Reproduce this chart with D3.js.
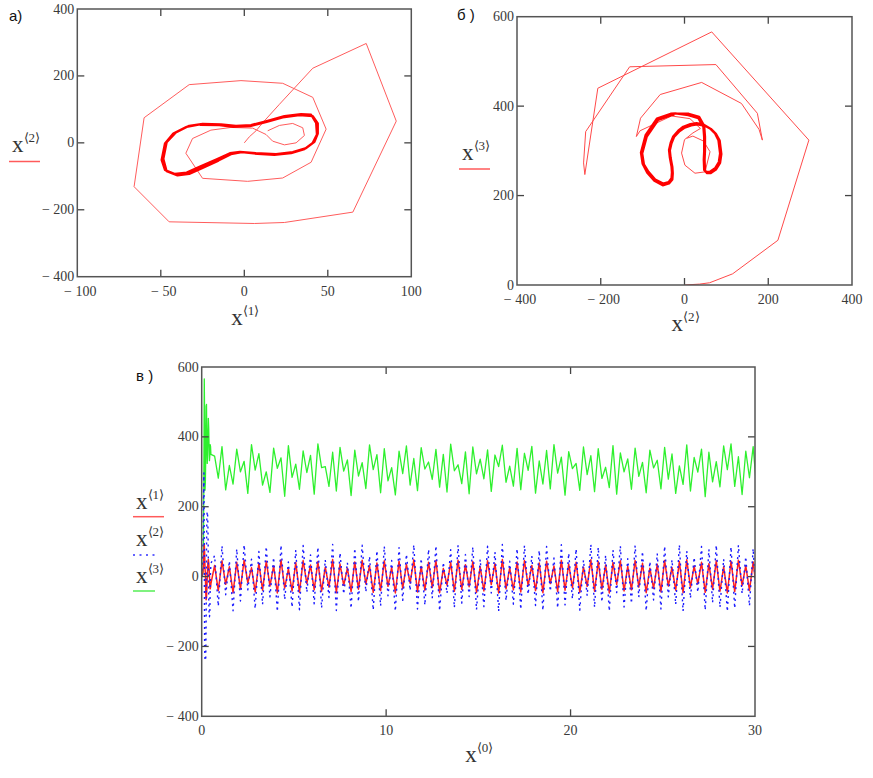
<!DOCTYPE html>
<html lang="ru">
<head>
<meta charset="UTF-8">
<title>Фазовые портреты и временные ряды</title>
<script src="https://cdn.jsdelivr.net/npm/d3@7"></script>
<style>
  body { margin: 0; background: #fff; }
  text { font-family: "Liberation Serif", "Times New Roman", serif; fill: #3a3a3a; }
  .plbl { font-family: "Liberation Sans", Arial, sans-serif; fill: #111; font-size: 15px; }
  .ttl { fill: #333; }
</style>
</head>
<body>
<svg id="chart" width="873" height="778"></svg>
<script>
// start of the trajectory (shared by all three plots), sampled every trStep
var trStep = 0.02;
var trX1 = [0, 3, 7, 11, 21, 41, 73, 91, 65, 24, 6, -45, -66, -60, -33, -2, 23, 41, 49, 40, 23, 2, -25, -35, -31, -20];
var trX2 = [0, 18, 36, 60, 115, 223, 297, 65, -207, -238, -241, -236, -131, 75, 174, 186, 178, 136, 41, -58, -105, -115, -106, -31, 13, 38];
var trX3 = [0, 1, 2, 5, 25, 100, 324, 566, 440, 247, 273, 343, 488, 493, 384, 324, 348, 406, 453, 426, 373, 332, 345, 378, 372, 350];

// plot a: thin path into the small right loop, then the thick attractor (two passes)
var innerA_x1 = [-8, 5, 13, 17, 24, 31, 36, 35, 29, 21, 14];
var innerA_x2 = [46, 44, 25, 5, -6, 0, 22, 45, 58, 52, 36];
var loopA_x1 = [-26.5, -15, -6.6, 3.4, 13.4, 23, 33, 41, 44, 44, 42, 37, 29, 19, 7, -2.6, -8.6, -16.5, -26.5, -34.5, -41.5, -47.5, -49.5, -47.5, -42.5, -34.5,
                -25, -14, -5, 4, 14, 24, 34, 40, 43, 43.5, 41, 36, 28, 18, 8, -1.5, -8, -15.5, -25, -33, -40, -46.5, -48.5, -46.5, -41, -33, -25];
var loopA_x2 = [54, 53, 48, 50, 63, 76, 83, 80, 58, 28, 3, -16, -28, -34, -31, -27, -31, -49, -71, -89, -93, -81, -51, -2, 28, 48,
                57, 55, 51, 53, 66, 80, 86, 84, 60, 25, 0, -19, -31, -36, -33, -28, -34, -53, -75, -93, -97, -85, -48, 2, 31, 51, 57];

// plot b: thin inner circle, then the thick attractor (two passes)
var innerB_x2 = [20, 0, -7, 1, 25, 49, 61, 45, 20, 5];
var innerB_x3 = [340, 325, 295, 268, 250, 253, 298, 322, 333, 328];
var loopB_x2 = [-24, -31, -63, -90, -101, -97, -86, -70, -51, -38, -31, -30, -31, -35, -37, -33, -27, -15, -3, 14, 29, 47, 61, 73, 81, 85, 82, 73, 60, 53, 47, 46, 47, 47, 45, 33, 9,
                -22, -33, -66, -93, -104, -100, -89, -72, -52, -37, -29, -28, -29, -33, -35, -31, -25, -13, -1, 16, 31, 49, 63, 75, 84, 88, 85, 75, 62, 54, 49, 48, 49, 49, 47, 35, 10, -22];
var loopB_x3 = [381, 380, 369, 332, 294, 270, 253, 236, 227, 230, 239, 252, 265, 285, 302, 318, 332, 345, 354, 360, 362, 358, 350, 339, 324, 294, 275, 261, 253, 253, 257, 280, 300, 330, 354, 373, 380,
                384, 383, 372, 335, 296, 271, 251, 233, 223, 227, 236, 250, 264, 284, 301, 317, 331, 343, 351, 357, 359, 356, 349, 338, 323, 293, 273, 258, 250, 250, 255, 280, 302, 332, 356, 376, 383, 384];

// plot c: steady oscillation after the start, sampled every tStep from tStart
var tStart = 0.7, tStep = 0.2;
var ssX1 = [32,-40, 45,-22, 28,-46, 41,-35, 47,-18, 25,-44, 38,-39, 44,-27, 30,-47, 48,-33,
            22,-41, 40,-45, 46,-20, 33,-38, 43,-42, 27,-30, 49,-46, 36,-25, 24,-43, 42,-36,
            47,-21, 31,-45, 39,-40, 45,-28, 26,-47, 44,-34, 35,-19, 48,-44, 29,-39, 41,-31,
            46,-46, 23,-24, 40,-42, 47,-37, 34,-29, 43,-45, 28,-41, 45,-23, 37,-47, 49,-35,
            25,-38, 42,-44, 46,-26, 32,-40, 39,-46, 44,-20, 30,-43, 47,-39, 36,-32, 41,-45,
            27,-28, 48,-42, 43,-36, 33,-47, 40,-22, 45,-41, 29,-38, 46,-30, 38,-46, 24,-34,
            35,-44, 46,-27, 26,-39, 43,-46, 48,-31, 30,-21, 41,-45, 37,-36, 45,-42, 28,-47,
            44,-43, 47,-25, 31,-40, 42,-45];
var ssX2 = [60,-85, 88,-52, 45,-98, 79,-70, 91,-38, 50,-92, 72,-80, 86,-58, 55,-100, 90,-66,
            42,-88, 76,-95, 89,-45, 62,-78, 84,-90, 48,-60, 92,-97, 68,-50, 40,-91, 81,-72,
            90,-44, 58,-96, 74,-84, 87,-55, 46,-99, 83,-68, 64,-40, 91,-93, 52,-82, 78,-62,
            88,-98, 41,-48, 77,-89, 90,-76, 63,-57, 85,-95, 49,-86, 87,-47, 70,-100, 92,-69,
            44,-79, 80,-94, 89,-51, 59,-83, 75,-97, 86,-42, 53,-90, 91,-81, 67,-64, 79,-96,
            47,-55, 92,-88, 84,-73, 61,-99, 76,-46, 88,-87, 51,-77, 89,-59, 72,-98, 43,-67,
            66,-93, 87,-58, 48,-80, 91,-99, 73,-62, 55,-45, 86,-96, 78,-75, 90,-88, 50,-100,
            85,-91, 90,-49, 57,-84, 80,-95];
var ssX3 = [345,282, 372,248, 318,265, 365,300, 330,238, 378,305, 352,262, 300,241, 368,310, 340,230,
            375,284, 322,250, 360,298, 347,236, 380,312, 315,258, 356,245, 370,302, 334,232, 362,288,
            326,252, 377,306, 349,240, 366,274, 312,234, 359,295, 374,262, 338,246, 369,308, 328,278,
            364,256, 350,242, 379,303, 320,266, 357,237, 371,294, 336,280, 363,244, 348,315, 376,270,
            316,259, 367,249, 353,304, 373,239, 331,265, 361,251, 378,296, 342,233, 358,309, 324,247,
            371,292, 346,243, 366,281, 313,255, 375,236, 354,300, 337,250, 368,287, 327,240, 362,311,
            333,251, 370,279, 351,238, 317,264, 377,245, 341,299, 365,229, 356,271, 329,257, 374,306,
            380,258, 343,235, 359,283, 372,246];

var svg = d3.select("#chart");

function fmt(v) { return v < 0 ? "\u2212 " + Math.abs(v) : String(v); }

function makePanel(p) {
  var x = d3.scaleLinear().domain(p.xd).range([p.left, p.right]);
  var y = d3.scaleLinear().domain(p.yd).range([p.bottom, p.top]);
  svg.append("clipPath").attr("id", "clip" + p.name)
    .append("rect").attr("x", p.left).attr("y", p.top)
    .attr("width", p.right - p.left).attr("height", p.bottom - p.top);
  var plot = svg.append("g").attr("clip-path", "url(#clip" + p.name + ")");
  return { p: p, x: x, y: y, plot: plot };
}

function drawFrame(P) {
  var p = P.p, x = P.x, y = P.y, g = svg.append("g");
  var tl = 7;
  p.xt.slice(1, -1).forEach(function(v) {
    g.append("line").attr("x1", x(v)).attr("x2", x(v)).attr("y1", p.bottom).attr("y2", p.bottom - tl);
    g.append("line").attr("x1", x(v)).attr("x2", x(v)).attr("y1", p.top).attr("y2", p.top + tl);
  });
  p.yt.slice(1, -1).forEach(function(v) {
    g.append("line").attr("x1", p.left).attr("x2", p.left + tl).attr("y1", y(v)).attr("y2", y(v));
    g.append("line").attr("x1", p.right).attr("x2", p.right - tl).attr("y1", y(v)).attr("y2", y(v));
  });
  g.selectAll("line").attr("stroke", "#444").attr("stroke-width", 1.3);
  g.append("rect").attr("x", p.left).attr("y", p.top)
    .attr("width", p.right - p.left).attr("height", p.bottom - p.top)
    .attr("fill", "none").attr("stroke", "#555").attr("stroke-width", 1.5);
  p.xt.forEach(function(v) {
    g.append("text").attr("x", x(v) + (v < 0 ? 3 : 0)).attr("y", p.bottom + 19)
      .attr("text-anchor", "middle").attr("font-size", 14).text(fmt(v));
  });
  p.yt.forEach(function(v) {
    g.append("text").attr("x", p.left - 3).attr("y", y(v) + 4.5)
      .attr("text-anchor", "end").attr("font-size", 14).text(fmt(v));
  });
  // axis title x<n>
  var t = g.append("text").attr("class", "ttl").attr("x", (p.left + p.right) / 2 + 1).attr("y", p.bottom + p.titleDy)
    .attr("text-anchor", "middle");
  t.append("tspan").attr("font-size", 23).text("x");
  t.append("tspan").attr("font-size", 13).attr("dy", -10).text("\u27E8" + p.xIdx + "\u27E9");
}

function legendEntry(lx, base, idx, ly, lw, color, dash) {
  var t = svg.append("text").attr("class", "ttl").attr("x", lx).attr("y", base);
  t.append("tspan").attr("font-size", 23).text("x");
  t.append("tspan").attr("font-size", 13).attr("dy", -10).text("\u27E8" + idx + "\u27E9");
  svg.append("line").attr("x1", lx - 3).attr("x2", lx - 3 + lw).attr("y1", ly).attr("y2", ly)
    .attr("stroke", color).attr("stroke-width", 1.5).attr("stroke-dasharray", dash || null);
}

function drawPath(P, xs, ys, color, w, dash) {
  var pts = xs.map(function(v, i) { return [v, ys[i]]; });
  P.plot.append("path")
    .attr("d", d3.line().x(function(d) { return P.x(d[0]); }).y(function(d) { return P.y(d[1]); })(pts))
    .attr("fill", "none").attr("stroke", color).attr("stroke-width", w).attr("stroke-linejoin", "round")
    .attr("stroke-dasharray", dash || null);
}

// ---- plot a: x2 vs x1
var A = makePanel({ name: "a", left: 77.3, right: 411.3, top: 9, bottom: 276.7,
  xd: [-100, 100], yd: [-400, 400], xt: [-100, -50, 0, 50, 100], yt: [-400, -200, 0, 200, 400], xIdx: 1, titleDy: 48 });
drawPath(A, trX1.concat(innerA_x1), trX2.concat(innerA_x2), "#ff5c5c", 1);
drawPath(A, loopA_x1, loopA_x2, "#ff0000", 2.3);
drawFrame(A);
legendEntry(12, 152, 2, 161.5, 31, "#ff5a5a");
svg.append("text").attr("class", "plbl").attr("x", 9).attr("y", 21).text("a)");

// ---- plot b: x3 vs x2
var B = makePanel({ name: "b", left: 517, right: 852, top: 16.7, bottom: 285,
  xd: [-400, 400], yd: [0, 600], xt: [-400, -200, 0, 200, 400], yt: [0, 200, 400, 600], xIdx: 2, titleDy: 46 });
drawPath(B, trX2.concat(innerB_x2), trX3.concat(innerB_x3), "#ff4a4a", 1);
drawPath(B, loopB_x2, loopB_x3, "#ff0000", 2.3);
drawFrame(B);
legendEntry(462, 160, 3, 169, 31, "#ff5a5a");
svg.append("text").attr("class", "plbl").attr("x", 457).attr("y", 20).text("\u0431 )");

// ---- plot c: x1, x2, x3 vs time
var C = makePanel({ name: "c", left: 201.7, right: 755, top: 367, bottom: 716.3,
  xd: [0, 30], yd: [-400, 600], xt: [0, 10, 20, 30], yt: [-400, -200, 0, 200, 400, 600], xIdx: 0, titleDy: 46 });
var tTr = trX1.map(function(_, i) { return i * trStep; });
var tSs = ssX1.map(function(_, i) { return tStart + i * tStep; });
var tAll = tTr.concat(tSs);
drawPath(C, tAll, trX3.concat(ssX3), "#2ef02e", 1.3);
drawPath(C, tAll, trX1.concat(ssX1), "#ff2020", 1.5);
drawPath(C, tAll, trX2.concat(ssX2), "#1a1aff", 1.4, "2,4");
drawFrame(C);
legendEntry(136, 509, 1, 516.7, 31, "#ff5a5a");
legendEntry(136, 546, 2, 555, 26, "#3030ff", "2,4.5");
legendEntry(136, 583, 3, 591, 22, "#55ee55");
svg.append("text").attr("class", "plbl").attr("x", 136).attr("y", 381).text("\u0432 )");
</script>
</body>
</html>
